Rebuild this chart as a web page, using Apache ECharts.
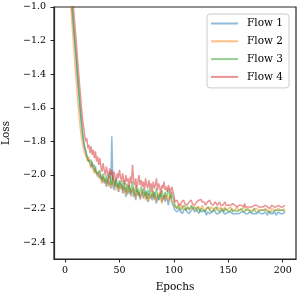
<!DOCTYPE html>
<html>
<head>
<meta charset="utf-8">
<script src="https://cdn.jsdelivr.net/npm/echarts@6/dist/echarts.min.js"></script>
<style>
html,body{margin:0;padding:0;background:#fff;}
#chart{width:300px;height:300px;}
</style>
</head>
<body>
<div id="chart"></div>
<script>
// Series names
const seriesNames = ["Flow 1", "Flow 2", "Flow 3", "Flow 4"];

// Loss values per epoch (epoch 0 .. 202)
const flow1 = [
-0.30,-0.46,-0.59,-0.70,-0.80,-0.89,-0.97,-1.05,-1.13,-1.21,-1.29,-1.38,-1.46,-1.54,-1.62,-1.69,-1.75,
-1.80,-1.84,-1.86,-1.88,-1.91,-1.90,-1.93,-1.95,-1.92,-1.96,-1.98,-1.95,-1.99,-2.01,
-1.98,-2.02,-2.00,-2.04,-2.01,-2.05,-2.03,-2.07,-2.02,-2.06,-2.04,-2.08,-1.77,-2.05,-2.09,-2.03,-2.07,-2.05,-2.10,-2.04,
-2.08,-2.06,-2.11,-2.07,-2.09,-2.13,-2.08,-2.11,-2.07,-2.12,-2.10,-2.08,-2.13,-2.11,-2.15,-2.09,-2.12,-2.10,-2.14,-2.12,
-2.10,-2.14,-2.12,-2.09,-2.13,-2.16,-2.11,-2.14,-2.12,-2.15,-2.13,-2.10,-2.14,-2.17,-2.12,-2.15,-2.13,-2.11,-2.16,-2.14,
-2.12,-2.16,-2.13,-2.15,-2.18,-2.14,-2.12,-2.16,-2.17,-2.19,
-2.21,-2.20,-2.22,-2.21,-2.20,-2.22,-2.21,-2.23,-2.21,-2.22,-2.20,-2.22,-2.21,-2.23,-2.22,-2.21,-2.22,-2.20,-2.22,-2.23,
-2.21,-2.22,-2.23,-2.21,-2.22,-2.22,-2.23,-2.21,-2.22,-2.24,-2.22,-2.21,-2.23,-2.22,-2.22,-2.23,-2.21,-2.22,-2.23,-2.22,
-2.23,-2.22,-2.22,-2.23,-2.21,-2.23,-2.22,-2.23,-2.22,-2.22,-2.23,-2.22,-2.23,-2.23,-2.22,-2.23,-2.22,-2.23,-2.22,-2.23,
-2.23,-2.22,-2.23,-2.22,-2.23,-2.23,-2.22,-2.23,-2.24,-2.22,-2.23,-2.23,-2.22,-2.23,-2.22,-2.23,-2.23,-2.22,-2.23,-2.23,
-2.22,-2.23,-2.23,-2.22,-2.23,-2.24,-2.22,-2.23,-2.23,-2.22,-2.23,-2.23,-2.22,-2.24,-2.23,-2.22,-2.23,-2.23,-2.22,-2.23,-2.23,-2.22
];
const flow2 = [
-0.35,-0.52,-0.66,-0.78,-0.88,-0.97,-1.06,-1.15,-1.24,-1.33,-1.41,-1.50,-1.58,-1.65,-1.72,-1.77,-1.81,
-1.84,-1.87,-1.86,-1.90,-1.92,-1.89,-1.94,-1.96,-1.93,-1.97,-1.99,-1.96,-2.00,-1.98,
-2.02,-1.99,-2.03,-2.05,-2.01,-2.04,-2.02,-2.06,-2.03,-2.07,-2.01,-2.05,-2.08,-2.03,-2.06,-2.04,-2.09,-2.05,-2.07,-2.10,
-2.05,-2.08,-2.06,-2.11,-2.07,-2.09,-2.12,-2.06,-2.10,-2.08,-2.13,-2.09,-2.07,-2.11,-2.14,-2.08,-2.12,-2.10,-2.15,-2.11,
-2.09,-2.13,-2.11,-2.15,-2.10,-2.13,-2.16,-2.11,-2.14,-2.12,-2.09,-2.15,-2.12,-2.16,-2.11,-2.13,-2.10,-2.14,-2.17,-2.12,
-2.15,-2.11,-2.14,-2.12,-2.16,-2.13,-2.11,-2.15,-2.14,-2.17,
-2.19,-2.18,-2.20,-2.19,-2.17,-2.20,-2.19,-2.18,-2.20,-2.19,-2.21,-2.19,-2.18,-2.20,-2.19,-2.20,-2.18,-2.20,-2.19,-2.21,
-2.19,-2.20,-2.19,-2.21,-2.20,-2.18,-2.20,-2.19,-2.21,-2.20,-2.19,-2.20,-2.21,-2.19,-2.20,-2.20,-2.19,-2.21,-2.20,-2.19,
-2.20,-2.21,-2.19,-2.20,-2.21,-2.20,-2.19,-2.21,-2.20,-2.20,-2.21,-2.19,-2.20,-2.21,-2.20,-2.21,-2.20,-2.19,-2.21,-2.20,
-2.21,-2.20,-2.20,-2.21,-2.19,-2.21,-2.20,-2.21,-2.20,-2.21,-2.20,-2.21,-2.21,-2.20,-2.21,-2.20,-2.21,-2.21,-2.20,-2.21,
-2.20,-2.21,-2.21,-2.20,-2.21,-2.21,-2.20,-2.22,-2.21,-2.20,-2.21,-2.21,-2.20,-2.21,-2.22,-2.20,-2.21,-2.21,-2.20,-2.21,-2.21,-2.20
];
const flow3 = [
-0.30,-0.45,-0.58,-0.69,-0.79,-0.88,-0.96,-1.04,-1.12,-1.20,-1.28,-1.37,-1.45,-1.53,-1.61,-1.68,-1.74,
-1.79,-1.83,-1.85,-1.89,-1.88,-1.92,-1.93,-1.91,-1.95,-1.96,-1.94,-1.98,-1.97,-1.99,
-2.00,-1.97,-2.01,-2.03,-1.99,-2.02,-2.04,-2.00,-2.05,-2.02,-1.98,-2.04,-2.06,-2.01,-2.03,-2.07,-2.02,-2.05,-2.08,-2.03,
-2.06,-2.04,-2.09,-2.03,-2.07,-2.10,-2.05,-2.08,-2.06,-2.11,-2.07,-2.04,-2.09,-2.12,-2.06,-2.10,-2.08,-2.13,-2.09,-2.07,
-2.11,-2.08,-2.12,-2.10,-2.14,-2.09,-2.12,-2.07,-2.11,-2.13,-2.10,-2.14,-2.11,-2.08,-2.12,-2.15,-2.11,-2.13,-2.09,-2.12,
-2.14,-2.10,-2.13,-2.11,-2.08,-2.12,-2.14,-2.10,-2.13,-2.15,
-2.18,-2.19,-2.20,-2.18,-2.20,-2.19,-2.21,-2.19,-2.20,-2.18,-2.21,-2.20,-2.19,-2.21,-2.20,-2.18,-2.20,-2.21,-2.19,-2.20,
-2.21,-2.19,-2.20,-2.22,-2.20,-2.19,-2.21,-2.20,-2.22,-2.20,-2.21,-2.19,-2.21,-2.20,-2.22,-2.21,-2.20,-2.21,-2.19,-2.21,
-2.20,-2.22,-2.21,-2.20,-2.21,-2.22,-2.20,-2.21,-2.21,-2.20,-2.22,-2.21,-2.20,-2.22,-2.21,-2.21,-2.20,-2.22,-2.21,-2.21,
-2.22,-2.20,-2.21,-2.22,-2.21,-2.21,-2.22,-2.20,-2.21,-2.22,-2.21,-2.22,-2.21,-2.20,-2.22,-2.21,-2.22,-2.21,-2.21,-2.22,
-2.21,-2.22,-2.21,-2.22,-2.21,-2.20,-2.22,-2.21,-2.22,-2.21,-2.22,-2.21,-2.21,-2.22,-2.21,-2.22,-2.21,-2.22,-2.21,-2.22,-2.21,-2.22
];
const flow4 = [
-0.25,-0.38,-0.50,-0.61,-0.71,-0.80,-0.88,-0.95,-1.02,-1.10,-1.18,-1.26,-1.35,-1.43,-1.51,-1.59,-1.66,
-1.71,-1.76,-1.80,-1.78,-1.84,-1.82,-1.87,-1.83,-1.88,-1.85,-1.90,-1.86,-1.92,-1.89,
-1.94,-1.90,-1.95,-1.98,-1.93,-1.97,-2.00,-1.95,-1.99,-2.02,-1.96,-2.00,-1.97,-2.03,-1.98,-2.01,-2.04,-1.99,-2.02,-1.97,
-2.01,-2.04,-1.99,-2.03,-2.06,-2.00,-2.04,-2.02,-2.07,-2.01,-2.05,-1.94,-2.03,-2.06,-2.02,-2.08,-2.04,-2.00,-2.06,-2.03,
-2.07,-2.04,-2.09,-2.02,-2.06,-2.08,-2.03,-2.07,-2.05,-2.10,-2.04,-2.08,-2.06,-2.02,-2.09,-2.05,-2.07,-2.11,-2.06,-2.08,
-2.04,-2.09,-2.07,-2.10,-2.06,-2.08,-2.11,-2.07,-2.09,-2.12,
-2.16,-2.17,-2.15,-2.17,-2.16,-2.18,-2.16,-2.17,-2.15,-2.17,-2.16,-2.18,-2.17,-2.16,-2.17,-2.15,-2.17,-2.16,-2.18,-2.17,
-2.16,-2.17,-2.15,-2.16,-2.145,-2.16,-2.17,-2.16,-2.18,-2.17,-2.16,-2.17,-2.15,-2.17,-2.16,-2.18,-2.17,-2.16,-2.17,-2.18,
-2.17,-2.16,-2.18,-2.17,-2.18,-2.17,-2.16,-2.18,-2.17,-2.18,-2.17,-2.18,-2.19,-2.17,-2.18,-2.18,-2.17,-2.19,-2.18,-2.18,
-2.19,-2.18,-2.18,-2.19,-2.17,-2.19,-2.18,-2.19,-2.18,-2.19,-2.18,-2.19,-2.19,-2.18,-2.19,-2.18,-2.19,-2.19,-2.18,-2.19,
-2.18,-2.19,-2.19,-2.18,-2.19,-2.19,-2.18,-2.20,-2.19,-2.18,-2.19,-2.19,-2.18,-2.19,-2.20,-2.18,-2.19,-2.19,-2.18,-2.19,-2.19,-2.18
];

// Tick labels
const xTicks = [0, 50, 100, 150, 200];
const yTicks = [-2.4, -2.2, -2.0, -1.8, -1.6, -1.4, -1.2, -1.0];

const allSeries = [flow1, flow2, flow3, flow4];
const colors = ["rgba(31,119,180,0.5)", "rgba(255,127,14,0.5)", "rgba(44,160,44,0.5)", "rgba(214,39,40,0.5)"];

const FONT = "DejaVu Serif";
const axisColor = "#262626";

const chart = echarts.init(document.getElementById('chart'), null, {renderer: 'canvas'});
chart.setOption({
  animation: false,
  backgroundColor: '#fff',
  grid: {
    left: 54, top: 7, right: 4, bottom: 41,
    show: true, borderColor: axisColor, borderWidth: 1.2, backgroundColor: 'transparent',
    containLabel: false, outerBoundsMode: 'none'
  },
  legend: {
    orient: 'vertical',
    right: 11, top: 14,
    icon: 'rect',
    itemWidth: 27, itemHeight: 2,
    itemGap: 5.8,
    padding: [3.5, 6, 5, 4],
    backgroundColor: 'rgba(255,255,255,0.8)',
    borderColor: '#cccccc', borderWidth: 1, borderRadius: 3,
    textStyle: {fontFamily: FONT, fontSize: 10.5, color: '#000', lineHeight: 12, padding: [0,0,0,4]},
    data: seriesNames
  },
  xAxis: {
    type: 'value', min: -10.1, max: 212.2,
    name: 'Epochs', nameLocation: 'middle', nameGap: 23,
    nameTextStyle: {fontFamily: FONT, fontSize: 10.5, color: '#000'},
    axisLine: {show: true, onZero: false, lineStyle: {color: axisColor, width: 1.2}},
    axisTick: {show: true, length: 3.5, lineStyle: {color: axisColor, width: 1}, customValues: xTicks},
    axisLabel: {fontFamily: FONT, fontSize: 9.5, color: '#000', margin: 7, customValues: xTicks,
      formatter: v => String(v)},
    splitLine: {show: false}
  },
  yAxis: {
    type: 'value', min: -2.5, max: -1.0,
    name: 'Loss', nameLocation: 'middle', nameGap: 40, nameRotate: 90,
    nameTextStyle: {fontFamily: FONT, fontSize: 10.5, color: '#000'},
    axisLine: {show: true, onZero: false, lineStyle: {color: axisColor, width: 1.2}},
    axisTick: {show: true, length: 3.5, lineStyle: {color: axisColor, width: 1}, customValues: yTicks},
    axisLabel: {fontFamily: FONT, fontSize: 9.5, color: '#000', margin: 8, customValues: yTicks,
      formatter: v => v.toFixed(1).replace('-', '\u2212')},
    splitLine: {show: false}
  },
  series: allSeries.map((vals, k) => ({
    name: seriesNames[k],
    type: 'line',
    color: colors[k],
    showSymbol: false,
    symbol: 'none',
    clip: true,
    lineStyle: {width: 1.5, color: colors[k]},
    data: vals.map((v, i) => [i, v])
  }))
});
</script>
</body>
</html>
